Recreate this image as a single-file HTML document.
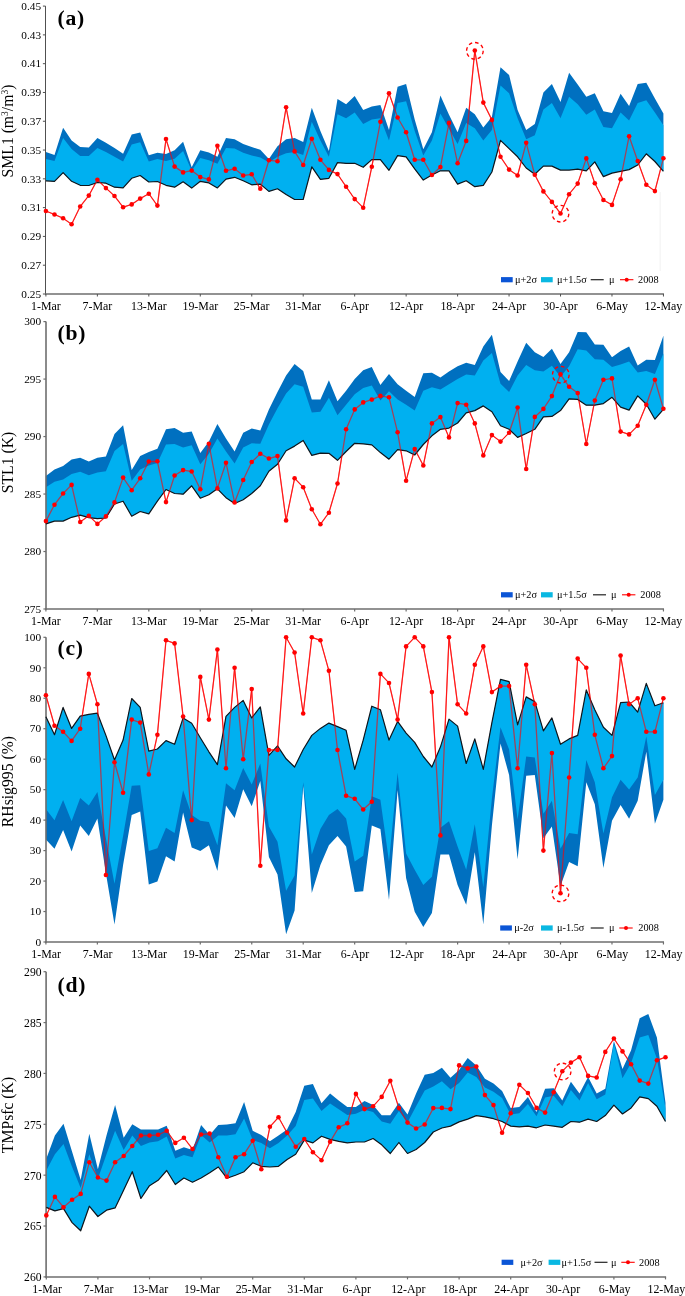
<!DOCTYPE html>
<html><head><meta charset="utf-8"><title>Figure</title>
<style>html,body{margin:0;padding:0;background:#fff}svg{display:block}text{font-family:"Liberation Serif", "Times New Roman", serif;fill:#000}</style>
</head><body>
<svg width="685" height="1296" viewBox="0 0 685 1296">
<rect width="685" height="1296" fill="#fff"/>
<rect x="659.5" y="192" width="1.5" height="79" fill="#f6f6f6"/>
<g id="pa"><polyline points="45.9,211.0 54.5,214.5 63.1,218.2 71.6,224.3 80.2,206.5 88.8,195.6 97.4,179.7 105.9,188.1 114.5,196.0 123.1,207.2 131.7,204.4 140.2,198.6 148.8,193.7 157.4,205.6 166.0,139.0 174.6,166.6 183.1,172.4 191.7,170.6 200.3,177.1 208.9,179.4 217.4,145.8 226.0,170.8 234.6,168.7 243.2,175.5 251.7,174.3 260.3,188.8 268.9,160.3 277.5,161.2 286.1,107.3 294.6,151.4 303.2,165.0 311.8,138.8 320.4,159.8 328.9,169.9 337.5,174.1 346.1,186.7 354.7,199.1 363.2,207.7 371.8,166.8 380.4,121.8 389.0,93.3 397.6,117.5 406.1,132.3 414.7,159.8 423.3,159.8 431.9,175.0 440.4,167.1 449.0,122.9 457.6,163.3 466.2,140.9 474.8,50.5 483.3,102.6 491.9,119.9 500.5,156.8 509.1,169.6 517.6,175.5 526.2,142.8 534.8,174.8 543.4,191.4 551.9,201.9 560.5,213.5 569.1,194.2 577.7,183.6 586.3,158.4 594.8,183.2 603.4,200.0 612.0,204.9 620.6,179.2 629.1,136.2 637.7,161.0 646.3,184.8 654.9,191.1 663.4,158.2" fill="none" stroke="#ff0000" stroke-width="0.8" stroke-linejoin="round"/><polygon points="45.9,152.1 54.5,154.9 63.1,127.8 71.6,140.4 80.2,147.0 88.8,147.4 97.4,138.1 105.9,142.8 114.5,147.9 123.1,153.8 131.7,134.6 140.2,132.5 148.8,155.2 157.4,152.8 166.0,154.0 174.6,150.2 183.1,141.8 191.7,167.3 200.3,150.2 208.9,152.6 217.4,156.8 226.0,138.1 234.6,139.3 243.2,143.9 251.7,147.0 260.3,149.8 268.9,159.1 277.5,146.3 286.1,139.3 294.6,138.1 303.2,142.1 311.8,107.7 320.4,131.1 328.9,150.9 337.5,99.1 346.1,104.2 354.7,96.1 363.2,110.1 371.8,106.6 380.4,104.9 389.0,129.9 397.6,86.7 406.1,83.9 414.7,119.4 423.3,149.3 431.9,132.3 440.4,95.4 449.0,114.7 457.6,132.3 466.2,107.7 474.8,114.3 483.3,127.6 491.9,117.1 500.5,67.3 509.1,75.0 517.6,110.1 526.2,129.9 534.8,124.1 543.4,92.6 551.9,83.9 560.5,101.9 569.1,72.7 577.7,84.4 586.3,96.8 594.8,93.3 603.4,111.2 612.0,112.9 620.6,93.7 629.1,105.9 637.7,83.9 646.3,82.7 654.9,98.4 663.4,113.6 663.4,171.3 654.9,161.5 646.3,153.8 637.7,165.0 629.1,169.6 620.6,171.3 612.0,173.1 603.4,176.6 594.8,161.9 586.3,170.8 577.7,169.2 569.1,170.1 560.5,170.1 551.9,166.1 543.4,166.1 534.8,174.3 526.2,168.0 517.6,156.8 509.1,148.6 500.5,140.4 491.9,172.0 483.3,185.3 474.8,186.7 466.2,180.8 457.6,184.1 449.0,170.8 440.4,170.8 431.9,175.0 423.3,180.1 414.7,168.9 406.1,156.8 397.6,155.6 389.0,170.3 380.4,159.6 371.8,159.6 363.2,167.3 354.7,163.3 346.1,163.3 337.5,162.6 328.9,178.3 320.4,179.4 311.8,166.8 303.2,199.5 294.6,199.5 286.1,194.6 277.5,188.8 268.9,191.4 260.3,184.1 251.7,184.8 243.2,180.8 234.6,177.3 226.0,179.2 217.4,187.9 208.9,182.9 200.3,181.3 191.7,188.1 183.1,181.8 174.6,187.2 166.0,185.3 157.4,181.5 148.8,182.0 140.2,175.5 131.7,178.3 123.1,187.9 114.5,187.2 105.9,183.2 97.4,182.5 88.8,185.5 80.2,185.3 71.6,181.3 63.1,172.7 54.5,181.3 45.9,180.8" fill="#0070c0"/>
<polygon points="45.9,159.1 54.5,161.0 63.1,138.1 71.6,149.1 80.2,155.9 88.8,156.1 97.4,148.1 105.9,152.1 114.5,156.8 123.1,161.5 131.7,144.6 140.2,142.3 148.8,161.5 157.4,159.1 166.0,161.0 174.6,158.7 183.1,150.9 191.7,170.8 200.3,158.0 208.9,160.3 217.4,163.8 226.0,147.9 234.6,148.6 243.2,152.8 251.7,155.6 260.3,157.5 268.9,162.2 277.5,156.8 286.1,153.3 294.6,152.1 303.2,154.9 311.8,121.8 320.4,140.4 328.9,156.8 337.5,114.3 346.1,118.2 354.7,112.4 363.2,124.1 371.8,119.4 380.4,118.2 389.0,140.4 397.6,103.1 406.1,101.2 414.7,131.1 423.3,155.6 431.9,140.4 440.4,113.6 449.0,128.8 457.6,143.9 466.2,122.9 474.8,128.3 483.3,140.4 491.9,129.9 500.5,85.5 509.1,93.3 517.6,118.2 526.2,139.3 534.8,135.3 543.4,109.4 551.9,103.1 560.5,118.2 569.1,96.8 577.7,104.2 586.3,114.7 594.8,109.4 603.4,126.9 612.0,128.3 620.6,112.4 629.1,120.6 637.7,103.1 646.3,100.3 654.9,112.4 663.4,125.3 663.4,171.3 654.9,161.5 646.3,153.8 637.7,165.0 629.1,169.6 620.6,171.3 612.0,173.1 603.4,176.6 594.8,161.9 586.3,170.8 577.7,169.2 569.1,170.1 560.5,170.1 551.9,166.1 543.4,166.1 534.8,174.3 526.2,168.0 517.6,156.8 509.1,148.6 500.5,140.4 491.9,172.0 483.3,185.3 474.8,186.7 466.2,180.8 457.6,184.1 449.0,170.8 440.4,170.8 431.9,175.0 423.3,180.1 414.7,168.9 406.1,156.8 397.6,155.6 389.0,170.3 380.4,159.6 371.8,159.6 363.2,167.3 354.7,163.3 346.1,163.3 337.5,162.6 328.9,178.3 320.4,179.4 311.8,166.8 303.2,199.5 294.6,199.5 286.1,194.6 277.5,188.8 268.9,191.4 260.3,184.1 251.7,184.8 243.2,180.8 234.6,177.3 226.0,179.2 217.4,187.9 208.9,182.9 200.3,181.3 191.7,188.1 183.1,181.8 174.6,187.2 166.0,185.3 157.4,181.5 148.8,182.0 140.2,175.5 131.7,178.3 123.1,187.9 114.5,187.2 105.9,183.2 97.4,182.5 88.8,185.5 80.2,185.3 71.6,181.3 63.1,172.7 54.5,181.3 45.9,180.8" fill="#00b0f0"/>
<path d="M45.50 6.10 V294.70" fill="none" stroke="#505050" stroke-width="1.00"/>
<path d="M45.00 294.00 H664.04" fill="none" stroke="#6e6e6e" stroke-width="1.5"/>
<polyline points="45.9,180.8 54.5,181.3 63.1,172.7 71.6,181.3 80.2,185.3 88.8,185.5 97.4,182.5 105.9,183.2 114.5,187.2 123.1,187.9 131.7,178.3 140.2,175.5 148.8,182.0 157.4,181.5 166.0,185.3 174.6,187.2 183.1,181.8 191.7,188.1 200.3,181.3 208.9,182.9 217.4,187.9 226.0,179.2 234.6,177.3 243.2,180.8 251.7,184.8 260.3,184.1 268.9,191.4 277.5,188.8 286.1,194.6 294.6,199.5 303.2,199.5 311.8,166.8 320.4,179.4 328.9,178.3 337.5,162.6 346.1,163.3 354.7,163.3 363.2,167.3 371.8,159.6 380.4,159.6 389.0,170.3 397.6,155.6 406.1,156.8 414.7,168.9 423.3,180.1 431.9,175.0 440.4,170.8 449.0,170.8 457.6,184.1 466.2,180.8 474.8,186.7 483.3,185.3 491.9,172.0 500.5,140.4 509.1,148.6 517.6,156.8 526.2,168.0 534.8,174.3 543.4,166.1 551.9,166.1 560.5,170.1 569.1,170.1 577.7,169.2 586.3,170.8 594.8,161.9 603.4,176.6 612.0,173.1 620.6,171.3 629.1,169.6 637.7,165.0 646.3,153.8 654.9,161.5 663.4,171.3" fill="none" stroke="#10161c" stroke-width="1.2" stroke-linejoin="round"/>
<polyline points="45.9,211.0 54.5,214.5 63.1,218.2 71.6,224.3 80.2,206.5 88.8,195.6 97.4,179.7 105.9,188.1 114.5,196.0 123.1,207.2 131.7,204.4 140.2,198.6 148.8,193.7 157.4,205.6 166.0,139.0 174.6,166.6 183.1,172.4 191.7,170.6 200.3,177.1 208.9,179.4 217.4,145.8 226.0,170.8 234.6,168.7 243.2,175.5 251.7,174.3 260.3,188.8 268.9,160.3 277.5,161.2 286.1,107.3 294.6,151.4 303.2,165.0 311.8,138.8 320.4,159.8 328.9,169.9 337.5,174.1 346.1,186.7 354.7,199.1 363.2,207.7 371.8,166.8 380.4,121.8 389.0,93.3 397.6,117.5 406.1,132.3 414.7,159.8 423.3,159.8 431.9,175.0 440.4,167.1 449.0,122.9 457.6,163.3 466.2,140.9 474.8,50.5 483.3,102.6 491.9,119.9 500.5,156.8 509.1,169.6 517.6,175.5 526.2,142.8 534.8,174.8 543.4,191.4 551.9,201.9 560.5,213.5 569.1,194.2 577.7,183.6 586.3,158.4 594.8,183.2 603.4,200.0 612.0,204.9 620.6,179.2 629.1,136.2 637.7,161.0 646.3,184.8 654.9,191.1 663.4,158.2" fill="none" stroke="#ff0000" stroke-width="1.3" stroke-opacity="0.62" stroke-linejoin="round"/><circle cx="45.9" cy="211.0" r="2.3" fill="#ff0000"/><circle cx="54.5" cy="214.5" r="2.3" fill="#ff0000"/><circle cx="63.1" cy="218.2" r="2.3" fill="#ff0000"/><circle cx="71.6" cy="224.3" r="2.3" fill="#ff0000"/><circle cx="80.2" cy="206.5" r="2.3" fill="#ff0000"/><circle cx="88.8" cy="195.6" r="2.3" fill="#ff0000"/><circle cx="97.4" cy="179.7" r="2.3" fill="#ff0000"/><circle cx="105.9" cy="188.1" r="2.3" fill="#ff0000"/><circle cx="114.5" cy="196.0" r="2.3" fill="#ff0000"/><circle cx="123.1" cy="207.2" r="2.3" fill="#ff0000"/><circle cx="131.7" cy="204.4" r="2.3" fill="#ff0000"/><circle cx="140.2" cy="198.6" r="2.3" fill="#ff0000"/><circle cx="148.8" cy="193.7" r="2.3" fill="#ff0000"/><circle cx="157.4" cy="205.6" r="2.3" fill="#ff0000"/><circle cx="166.0" cy="139.0" r="2.3" fill="#ff0000"/><circle cx="174.6" cy="166.6" r="2.3" fill="#ff0000"/><circle cx="183.1" cy="172.4" r="2.3" fill="#ff0000"/><circle cx="191.7" cy="170.6" r="2.3" fill="#ff0000"/><circle cx="200.3" cy="177.1" r="2.3" fill="#ff0000"/><circle cx="208.9" cy="179.4" r="2.3" fill="#ff0000"/><circle cx="217.4" cy="145.8" r="2.3" fill="#ff0000"/><circle cx="226.0" cy="170.8" r="2.3" fill="#ff0000"/><circle cx="234.6" cy="168.7" r="2.3" fill="#ff0000"/><circle cx="243.2" cy="175.5" r="2.3" fill="#ff0000"/><circle cx="251.7" cy="174.3" r="2.3" fill="#ff0000"/><circle cx="260.3" cy="188.8" r="2.3" fill="#ff0000"/><circle cx="268.9" cy="160.3" r="2.3" fill="#ff0000"/><circle cx="277.5" cy="161.2" r="2.3" fill="#ff0000"/><circle cx="286.1" cy="107.3" r="2.3" fill="#ff0000"/><circle cx="294.6" cy="151.4" r="2.3" fill="#ff0000"/><circle cx="303.2" cy="165.0" r="2.3" fill="#ff0000"/><circle cx="311.8" cy="138.8" r="2.3" fill="#ff0000"/><circle cx="320.4" cy="159.8" r="2.3" fill="#ff0000"/><circle cx="328.9" cy="169.9" r="2.3" fill="#ff0000"/><circle cx="337.5" cy="174.1" r="2.3" fill="#ff0000"/><circle cx="346.1" cy="186.7" r="2.3" fill="#ff0000"/><circle cx="354.7" cy="199.1" r="2.3" fill="#ff0000"/><circle cx="363.2" cy="207.7" r="2.3" fill="#ff0000"/><circle cx="371.8" cy="166.8" r="2.3" fill="#ff0000"/><circle cx="380.4" cy="121.8" r="2.3" fill="#ff0000"/><circle cx="389.0" cy="93.3" r="2.3" fill="#ff0000"/><circle cx="397.6" cy="117.5" r="2.3" fill="#ff0000"/><circle cx="406.1" cy="132.3" r="2.3" fill="#ff0000"/><circle cx="414.7" cy="159.8" r="2.3" fill="#ff0000"/><circle cx="423.3" cy="159.8" r="2.3" fill="#ff0000"/><circle cx="431.9" cy="175.0" r="2.3" fill="#ff0000"/><circle cx="440.4" cy="167.1" r="2.3" fill="#ff0000"/><circle cx="449.0" cy="122.9" r="2.3" fill="#ff0000"/><circle cx="457.6" cy="163.3" r="2.3" fill="#ff0000"/><circle cx="466.2" cy="140.9" r="2.3" fill="#ff0000"/><circle cx="474.8" cy="50.5" r="2.3" fill="#ff0000"/><circle cx="483.3" cy="102.6" r="2.3" fill="#ff0000"/><circle cx="491.9" cy="119.9" r="2.3" fill="#ff0000"/><circle cx="500.5" cy="156.8" r="2.3" fill="#ff0000"/><circle cx="509.1" cy="169.6" r="2.3" fill="#ff0000"/><circle cx="517.6" cy="175.5" r="2.3" fill="#ff0000"/><circle cx="526.2" cy="142.8" r="2.3" fill="#ff0000"/><circle cx="534.8" cy="174.8" r="2.3" fill="#ff0000"/><circle cx="543.4" cy="191.4" r="2.3" fill="#ff0000"/><circle cx="551.9" cy="201.9" r="2.3" fill="#ff0000"/><circle cx="560.5" cy="213.5" r="2.3" fill="#ff0000"/><circle cx="569.1" cy="194.2" r="2.3" fill="#ff0000"/><circle cx="577.7" cy="183.6" r="2.3" fill="#ff0000"/><circle cx="586.3" cy="158.4" r="2.3" fill="#ff0000"/><circle cx="594.8" cy="183.2" r="2.3" fill="#ff0000"/><circle cx="603.4" cy="200.0" r="2.3" fill="#ff0000"/><circle cx="612.0" cy="204.9" r="2.3" fill="#ff0000"/><circle cx="620.6" cy="179.2" r="2.3" fill="#ff0000"/><circle cx="629.1" cy="136.2" r="2.3" fill="#ff0000"/><circle cx="637.7" cy="161.0" r="2.3" fill="#ff0000"/><circle cx="646.3" cy="184.8" r="2.3" fill="#ff0000"/><circle cx="654.9" cy="191.1" r="2.3" fill="#ff0000"/><circle cx="663.4" cy="158.2" r="2.3" fill="#ff0000"/>
<circle cx="474.9" cy="50.8" r="8.3" fill="none" stroke="#ff0000" stroke-width="1.35" stroke-dasharray="3.6,2.9"/>
<circle cx="560.5" cy="213.7" r="8.3" fill="none" stroke="#ff0000" stroke-width="1.35" stroke-dasharray="3.6,2.9"/>
<path d="M45.50 6.10 h-2.6" stroke="#505050" stroke-width="1.00"/>
<text x="41.1" y="9.8" text-anchor="end" font-size="11.3">0.45</text>
<path d="M45.50 34.89 h-2.6" stroke="#505050" stroke-width="1.00"/>
<text x="41.1" y="38.6" text-anchor="end" font-size="11.3">0.43</text>
<path d="M45.50 63.68 h-2.6" stroke="#505050" stroke-width="1.00"/>
<text x="41.1" y="67.4" text-anchor="end" font-size="11.3">0.41</text>
<path d="M45.50 92.47 h-2.6" stroke="#505050" stroke-width="1.00"/>
<text x="41.1" y="96.2" text-anchor="end" font-size="11.3">0.39</text>
<path d="M45.50 121.26 h-2.6" stroke="#505050" stroke-width="1.00"/>
<text x="41.1" y="125.0" text-anchor="end" font-size="11.3">0.37</text>
<path d="M45.50 150.05 h-2.6" stroke="#505050" stroke-width="1.00"/>
<text x="41.1" y="153.7" text-anchor="end" font-size="11.3">0.35</text>
<path d="M45.50 178.84 h-2.6" stroke="#505050" stroke-width="1.00"/>
<text x="41.1" y="182.5" text-anchor="end" font-size="11.3">0.33</text>
<path d="M45.50 207.63 h-2.6" stroke="#505050" stroke-width="1.00"/>
<text x="41.1" y="211.3" text-anchor="end" font-size="11.3">0.31</text>
<path d="M45.50 236.42 h-2.6" stroke="#505050" stroke-width="1.00"/>
<text x="41.1" y="240.1" text-anchor="end" font-size="11.3">0.29</text>
<path d="M45.50 265.21 h-2.6" stroke="#505050" stroke-width="1.00"/>
<text x="41.1" y="268.9" text-anchor="end" font-size="11.3">0.27</text>
<path d="M45.50 294.00 h-2.6" stroke="#505050" stroke-width="1.00"/>
<text x="41.1" y="297.7" text-anchor="end" font-size="11.3">0.25</text>
<path d="M45.90 294.00 v2.5" stroke="#505050" stroke-width="1.00"/>
<text x="45.9" y="309.9" text-anchor="middle" font-size="11.9">1-Mar</text>
<path d="M97.36 294.00 v2.5" stroke="#505050" stroke-width="1.00"/>
<text x="97.4" y="309.9" text-anchor="middle" font-size="11.9">7-Mar</text>
<path d="M148.82 294.00 v2.5" stroke="#505050" stroke-width="1.00"/>
<text x="148.8" y="309.9" text-anchor="middle" font-size="11.9">13-Mar</text>
<path d="M200.29 294.00 v2.5" stroke="#505050" stroke-width="1.00"/>
<text x="200.3" y="309.9" text-anchor="middle" font-size="11.9">19-Mar</text>
<path d="M251.75 294.00 v2.5" stroke="#505050" stroke-width="1.00"/>
<text x="251.7" y="309.9" text-anchor="middle" font-size="11.9">25-Mar</text>
<path d="M303.21 294.00 v2.5" stroke="#505050" stroke-width="1.00"/>
<text x="303.2" y="309.9" text-anchor="middle" font-size="11.9">31-Mar</text>
<path d="M354.67 294.00 v2.5" stroke="#505050" stroke-width="1.00"/>
<text x="354.7" y="309.9" text-anchor="middle" font-size="11.9">6-Apr</text>
<path d="M406.13 294.00 v2.5" stroke="#505050" stroke-width="1.00"/>
<text x="406.1" y="309.9" text-anchor="middle" font-size="11.9">12-Apr</text>
<path d="M457.60 294.00 v2.5" stroke="#505050" stroke-width="1.00"/>
<text x="457.6" y="309.9" text-anchor="middle" font-size="11.9">18-Apr</text>
<path d="M509.06 294.00 v2.5" stroke="#505050" stroke-width="1.00"/>
<text x="509.1" y="309.9" text-anchor="middle" font-size="11.9">24-Apr</text>
<path d="M560.52 294.00 v2.5" stroke="#505050" stroke-width="1.00"/>
<text x="560.5" y="309.9" text-anchor="middle" font-size="11.9">30-Apr</text>
<path d="M611.98 294.00 v2.5" stroke="#505050" stroke-width="1.00"/>
<text x="612.0" y="309.9" text-anchor="middle" font-size="11.9">6-May</text>
<path d="M663.44 294.00 v2.5" stroke="#505050" stroke-width="1.00"/>
<text x="663.4" y="309.9" text-anchor="middle" font-size="11.9">12-May</text>
<text transform="translate(13.2 131.0) rotate(-90)" text-anchor="middle" font-size="15.7">SML1 (m<tspan font-size="9.5" dy="-5">3</tspan><tspan dy="5">/m</tspan><tspan font-size="9.5" dy="-5">3</tspan><tspan dy="5">)</tspan></text>
<text x="57.6" y="24.6" font-size="21.6" letter-spacing="0.7" font-weight="bold">(a)</text>
<rect x="501.0" y="277.1" width="11.7" height="5.2" fill="#0b55d6"/>
<text x="515.0" y="282.9" font-size="10.3">μ+2σ</text>
<rect x="541.0" y="277.1" width="11.7" height="5.2" fill="#0ab8e2"/>
<text x="557.0" y="282.9" font-size="10.3">μ+1.5σ</text>
<path d="M590.7 279.7 h13" stroke="#222" stroke-width="1.2"/>
<text x="609.0" y="282.9" font-size="10.3">μ</text>
<path d="M620.0 279.7 h13.4" stroke="#ff0000" stroke-width="1.1"/>
<circle cx="626.7" cy="279.7" r="2" fill="#ff0000"/>
<text x="638.0" y="282.9" font-size="10.3">2008</text></g>
<g id="pb"><polyline points="45.9,521.1 54.5,504.7 63.1,493.5 71.6,484.9 80.2,522.0 88.8,515.7 97.4,523.9 105.9,516.4 114.5,502.4 123.1,477.6 131.7,490.2 140.2,478.3 148.8,461.5 157.4,461.3 166.0,502.1 174.6,475.5 183.1,470.1 191.7,471.5 200.3,489.3 208.9,443.8 217.4,488.4 226.0,462.7 234.6,502.4 243.2,480.0 251.7,462.0 260.3,453.8 268.9,458.5 277.5,456.1 286.1,520.4 294.6,478.3 303.2,487.2 311.8,509.2 320.4,524.3 328.9,512.7 337.5,483.5 346.1,429.3 354.7,409.4 363.2,402.4 371.8,399.6 380.4,395.9 389.0,397.3 397.6,432.3 406.1,480.7 414.7,449.1 423.3,465.5 431.9,423.4 440.4,417.1 449.0,437.4 457.6,403.1 466.2,404.7 474.8,423.4 483.3,455.4 491.9,435.1 500.5,441.6 509.1,432.8 517.6,407.5 526.2,469.0 534.8,416.9 543.4,408.9 551.9,396.1 560.5,374.4 569.1,386.8 577.7,393.1 586.3,444.0 594.8,400.5 603.4,379.8 612.0,378.4 620.6,431.6 629.1,434.4 637.7,425.8 646.3,404.7 654.9,379.8 663.4,408.7" fill="none" stroke="#ff0000" stroke-width="0.8" stroke-linejoin="round"/><polygon points="45.9,476.0 54.5,469.4 63.1,465.9 71.6,459.6 80.2,457.8 88.8,461.5 97.4,457.8 105.9,456.6 114.5,433.9 123.1,425.3 131.7,470.1 140.2,456.1 148.8,451.9 157.4,448.7 166.0,429.3 174.6,428.1 183.1,432.8 191.7,431.6 200.3,453.1 208.9,441.6 217.4,424.1 226.0,438.6 234.6,451.5 243.2,432.8 251.7,428.6 260.3,430.4 268.9,409.4 277.5,391.9 286.1,375.5 294.6,363.9 303.2,370.9 311.8,399.4 320.4,399.4 328.9,380.2 337.5,401.2 346.1,390.7 354.7,379.1 363.2,370.2 371.8,366.9 380.4,384.9 389.0,373.9 397.6,384.2 406.1,390.7 414.7,397.0 423.3,373.2 431.9,372.7 440.4,377.4 449.0,371.6 457.6,366.2 466.2,362.7 474.8,365.0 483.3,346.4 491.9,334.7 500.5,372.0 509.1,380.9 517.6,361.5 526.2,342.8 534.8,352.2 543.4,356.9 551.9,348.7 560.5,363.9 569.1,352.2 577.7,331.9 586.3,332.3 594.8,344.5 603.4,344.7 612.0,357.3 620.6,351.0 629.1,346.4 637.7,365.5 646.3,359.7 654.9,359.9 663.4,335.8 663.4,409.4 654.9,419.2 646.3,404.3 637.7,395.9 629.1,410.1 620.6,407.1 612.0,397.3 603.4,403.6 594.8,405.2 586.3,405.2 577.7,399.4 569.1,398.9 560.5,410.6 551.9,416.4 543.4,416.9 534.8,429.3 526.2,433.5 517.6,437.4 509.1,429.3 500.5,425.8 491.9,411.8 483.3,405.9 474.8,410.6 466.2,412.9 457.6,423.0 449.0,428.1 440.4,429.3 431.9,435.8 423.3,444.5 414.7,455.0 406.1,450.8 397.6,449.6 389.0,459.2 380.4,452.6 371.8,444.9 363.2,443.8 354.7,443.3 346.1,451.5 337.5,460.3 328.9,453.3 320.4,453.1 311.8,455.4 303.2,440.5 294.6,446.1 286.1,450.8 277.5,464.3 268.9,471.3 260.3,485.8 251.7,493.5 243.2,499.8 234.6,503.5 226.0,497.7 217.4,488.8 208.9,494.7 200.3,498.2 191.7,485.8 183.1,494.2 174.6,493.5 166.0,489.5 157.4,501.2 148.8,513.8 140.2,511.5 131.7,516.2 123.1,501.2 114.5,504.0 105.9,518.0 97.4,518.7 88.8,517.6 80.2,515.2 71.6,517.3 63.1,521.1 54.5,521.1 45.9,523.9" fill="#0070c0"/>
<polygon points="45.9,487.2 54.5,481.8 63.1,479.5 71.6,474.1 80.2,471.8 88.8,475.3 97.4,472.5 105.9,471.3 114.5,451.0 123.1,444.0 131.7,480.7 140.2,469.4 148.8,465.5 157.4,463.1 166.0,444.5 174.6,444.0 183.1,447.5 191.7,445.2 200.3,464.3 208.9,453.8 217.4,438.6 226.0,451.5 234.6,463.6 243.2,447.5 251.7,443.3 260.3,443.8 268.9,424.6 277.5,408.2 286.1,393.5 294.6,384.2 303.2,386.8 311.8,412.5 320.4,411.8 328.9,397.7 337.5,415.3 346.1,404.7 354.7,394.2 363.2,387.9 371.8,385.6 380.4,400.5 389.0,391.2 397.6,399.6 406.1,404.7 414.7,410.6 423.3,390.7 431.9,387.2 440.4,389.6 449.0,384.2 457.6,379.1 466.2,374.4 474.8,375.5 483.3,360.4 491.9,352.9 500.5,383.7 509.1,391.9 517.6,375.5 526.2,365.0 534.8,370.2 543.4,371.6 551.9,365.7 560.5,376.7 569.1,366.2 577.7,349.2 586.3,350.6 594.8,359.2 603.4,359.7 612.0,366.9 620.6,364.6 629.1,361.5 637.7,372.5 646.3,370.9 654.9,373.9 663.4,353.4 663.4,409.4 654.9,419.2 646.3,404.3 637.7,395.9 629.1,410.1 620.6,407.1 612.0,397.3 603.4,403.6 594.8,405.2 586.3,405.2 577.7,399.4 569.1,398.9 560.5,410.6 551.9,416.4 543.4,416.9 534.8,429.3 526.2,433.5 517.6,437.4 509.1,429.3 500.5,425.8 491.9,411.8 483.3,405.9 474.8,410.6 466.2,412.9 457.6,423.0 449.0,428.1 440.4,429.3 431.9,435.8 423.3,444.5 414.7,455.0 406.1,450.8 397.6,449.6 389.0,459.2 380.4,452.6 371.8,444.9 363.2,443.8 354.7,443.3 346.1,451.5 337.5,460.3 328.9,453.3 320.4,453.1 311.8,455.4 303.2,440.5 294.6,446.1 286.1,450.8 277.5,464.3 268.9,471.3 260.3,485.8 251.7,493.5 243.2,499.8 234.6,503.5 226.0,497.7 217.4,488.8 208.9,494.7 200.3,498.2 191.7,485.8 183.1,494.2 174.6,493.5 166.0,489.5 157.4,501.2 148.8,513.8 140.2,511.5 131.7,516.2 123.1,501.2 114.5,504.0 105.9,518.0 97.4,518.7 88.8,517.6 80.2,515.2 71.6,517.3 63.1,521.1 54.5,521.1 45.9,523.9" fill="#00b0f0"/>
<path d="M46.00 321.60 V609.70" fill="none" stroke="#6e6e6e" stroke-width="1.60"/>
<path d="M45.20 609.00 H664.04" fill="none" stroke="#6e6e6e" stroke-width="1.5"/>
<polyline points="45.9,523.9 54.5,521.1 63.1,521.1 71.6,517.3 80.2,515.2 88.8,517.6 97.4,518.7 105.9,518.0 114.5,504.0 123.1,501.2 131.7,516.2 140.2,511.5 148.8,513.8 157.4,501.2 166.0,489.5 174.6,493.5 183.1,494.2 191.7,485.8 200.3,498.2 208.9,494.7 217.4,488.8 226.0,497.7 234.6,503.5 243.2,499.8 251.7,493.5 260.3,485.8 268.9,471.3 277.5,464.3 286.1,450.8 294.6,446.1 303.2,440.5 311.8,455.4 320.4,453.1 328.9,453.3 337.5,460.3 346.1,451.5 354.7,443.3 363.2,443.8 371.8,444.9 380.4,452.6 389.0,459.2 397.6,449.6 406.1,450.8 414.7,455.0 423.3,444.5 431.9,435.8 440.4,429.3 449.0,428.1 457.6,423.0 466.2,412.9 474.8,410.6 483.3,405.9 491.9,411.8 500.5,425.8 509.1,429.3 517.6,437.4 526.2,433.5 534.8,429.3 543.4,416.9 551.9,416.4 560.5,410.6 569.1,398.9 577.7,399.4 586.3,405.2 594.8,405.2 603.4,403.6 612.0,397.3 620.6,407.1 629.1,410.1 637.7,395.9 646.3,404.3 654.9,419.2 663.4,409.4" fill="none" stroke="#10161c" stroke-width="1.2" stroke-linejoin="round"/>
<polyline points="45.9,521.1 54.5,504.7 63.1,493.5 71.6,484.9 80.2,522.0 88.8,515.7 97.4,523.9 105.9,516.4 114.5,502.4 123.1,477.6 131.7,490.2 140.2,478.3 148.8,461.5 157.4,461.3 166.0,502.1 174.6,475.5 183.1,470.1 191.7,471.5 200.3,489.3 208.9,443.8 217.4,488.4 226.0,462.7 234.6,502.4 243.2,480.0 251.7,462.0 260.3,453.8 268.9,458.5 277.5,456.1 286.1,520.4 294.6,478.3 303.2,487.2 311.8,509.2 320.4,524.3 328.9,512.7 337.5,483.5 346.1,429.3 354.7,409.4 363.2,402.4 371.8,399.6 380.4,395.9 389.0,397.3 397.6,432.3 406.1,480.7 414.7,449.1 423.3,465.5 431.9,423.4 440.4,417.1 449.0,437.4 457.6,403.1 466.2,404.7 474.8,423.4 483.3,455.4 491.9,435.1 500.5,441.6 509.1,432.8 517.6,407.5 526.2,469.0 534.8,416.9 543.4,408.9 551.9,396.1 560.5,374.4 569.1,386.8 577.7,393.1 586.3,444.0 594.8,400.5 603.4,379.8 612.0,378.4 620.6,431.6 629.1,434.4 637.7,425.8 646.3,404.7 654.9,379.8 663.4,408.7" fill="none" stroke="#ff0000" stroke-width="1.3" stroke-opacity="0.62" stroke-linejoin="round"/><circle cx="45.9" cy="521.1" r="2.3" fill="#ff0000"/><circle cx="54.5" cy="504.7" r="2.3" fill="#ff0000"/><circle cx="63.1" cy="493.5" r="2.3" fill="#ff0000"/><circle cx="71.6" cy="484.9" r="2.3" fill="#ff0000"/><circle cx="80.2" cy="522.0" r="2.3" fill="#ff0000"/><circle cx="88.8" cy="515.7" r="2.3" fill="#ff0000"/><circle cx="97.4" cy="523.9" r="2.3" fill="#ff0000"/><circle cx="105.9" cy="516.4" r="2.3" fill="#ff0000"/><circle cx="114.5" cy="502.4" r="2.3" fill="#ff0000"/><circle cx="123.1" cy="477.6" r="2.3" fill="#ff0000"/><circle cx="131.7" cy="490.2" r="2.3" fill="#ff0000"/><circle cx="140.2" cy="478.3" r="2.3" fill="#ff0000"/><circle cx="148.8" cy="461.5" r="2.3" fill="#ff0000"/><circle cx="157.4" cy="461.3" r="2.3" fill="#ff0000"/><circle cx="166.0" cy="502.1" r="2.3" fill="#ff0000"/><circle cx="174.6" cy="475.5" r="2.3" fill="#ff0000"/><circle cx="183.1" cy="470.1" r="2.3" fill="#ff0000"/><circle cx="191.7" cy="471.5" r="2.3" fill="#ff0000"/><circle cx="200.3" cy="489.3" r="2.3" fill="#ff0000"/><circle cx="208.9" cy="443.8" r="2.3" fill="#ff0000"/><circle cx="217.4" cy="488.4" r="2.3" fill="#ff0000"/><circle cx="226.0" cy="462.7" r="2.3" fill="#ff0000"/><circle cx="234.6" cy="502.4" r="2.3" fill="#ff0000"/><circle cx="243.2" cy="480.0" r="2.3" fill="#ff0000"/><circle cx="251.7" cy="462.0" r="2.3" fill="#ff0000"/><circle cx="260.3" cy="453.8" r="2.3" fill="#ff0000"/><circle cx="268.9" cy="458.5" r="2.3" fill="#ff0000"/><circle cx="277.5" cy="456.1" r="2.3" fill="#ff0000"/><circle cx="286.1" cy="520.4" r="2.3" fill="#ff0000"/><circle cx="294.6" cy="478.3" r="2.3" fill="#ff0000"/><circle cx="303.2" cy="487.2" r="2.3" fill="#ff0000"/><circle cx="311.8" cy="509.2" r="2.3" fill="#ff0000"/><circle cx="320.4" cy="524.3" r="2.3" fill="#ff0000"/><circle cx="328.9" cy="512.7" r="2.3" fill="#ff0000"/><circle cx="337.5" cy="483.5" r="2.3" fill="#ff0000"/><circle cx="346.1" cy="429.3" r="2.3" fill="#ff0000"/><circle cx="354.7" cy="409.4" r="2.3" fill="#ff0000"/><circle cx="363.2" cy="402.4" r="2.3" fill="#ff0000"/><circle cx="371.8" cy="399.6" r="2.3" fill="#ff0000"/><circle cx="380.4" cy="395.9" r="2.3" fill="#ff0000"/><circle cx="389.0" cy="397.3" r="2.3" fill="#ff0000"/><circle cx="397.6" cy="432.3" r="2.3" fill="#ff0000"/><circle cx="406.1" cy="480.7" r="2.3" fill="#ff0000"/><circle cx="414.7" cy="449.1" r="2.3" fill="#ff0000"/><circle cx="423.3" cy="465.5" r="2.3" fill="#ff0000"/><circle cx="431.9" cy="423.4" r="2.3" fill="#ff0000"/><circle cx="440.4" cy="417.1" r="2.3" fill="#ff0000"/><circle cx="449.0" cy="437.4" r="2.3" fill="#ff0000"/><circle cx="457.6" cy="403.1" r="2.3" fill="#ff0000"/><circle cx="466.2" cy="404.7" r="2.3" fill="#ff0000"/><circle cx="474.8" cy="423.4" r="2.3" fill="#ff0000"/><circle cx="483.3" cy="455.4" r="2.3" fill="#ff0000"/><circle cx="491.9" cy="435.1" r="2.3" fill="#ff0000"/><circle cx="500.5" cy="441.6" r="2.3" fill="#ff0000"/><circle cx="509.1" cy="432.8" r="2.3" fill="#ff0000"/><circle cx="517.6" cy="407.5" r="2.3" fill="#ff0000"/><circle cx="526.2" cy="469.0" r="2.3" fill="#ff0000"/><circle cx="534.8" cy="416.9" r="2.3" fill="#ff0000"/><circle cx="543.4" cy="408.9" r="2.3" fill="#ff0000"/><circle cx="551.9" cy="396.1" r="2.3" fill="#ff0000"/><circle cx="560.5" cy="374.4" r="2.3" fill="#ff0000"/><circle cx="569.1" cy="386.8" r="2.3" fill="#ff0000"/><circle cx="577.7" cy="393.1" r="2.3" fill="#ff0000"/><circle cx="586.3" cy="444.0" r="2.3" fill="#ff0000"/><circle cx="594.8" cy="400.5" r="2.3" fill="#ff0000"/><circle cx="603.4" cy="379.8" r="2.3" fill="#ff0000"/><circle cx="612.0" cy="378.4" r="2.3" fill="#ff0000"/><circle cx="620.6" cy="431.6" r="2.3" fill="#ff0000"/><circle cx="629.1" cy="434.4" r="2.3" fill="#ff0000"/><circle cx="637.7" cy="425.8" r="2.3" fill="#ff0000"/><circle cx="646.3" cy="404.7" r="2.3" fill="#ff0000"/><circle cx="654.9" cy="379.8" r="2.3" fill="#ff0000"/><circle cx="663.4" cy="408.7" r="2.3" fill="#ff0000"/>
<circle cx="560.8" cy="374.7" r="8.3" fill="none" stroke="#ff0000" stroke-width="1.35" stroke-dasharray="3.6,2.9"/>
<path d="M46.00 321.60 h-2.6" stroke="#6e6e6e" stroke-width="1.20"/>
<text x="41.1" y="325.3" text-anchor="end" font-size="11.3">300</text>
<path d="M46.00 379.08 h-2.6" stroke="#6e6e6e" stroke-width="1.20"/>
<text x="41.1" y="382.8" text-anchor="end" font-size="11.3">295</text>
<path d="M46.00 436.56 h-2.6" stroke="#6e6e6e" stroke-width="1.20"/>
<text x="41.1" y="440.3" text-anchor="end" font-size="11.3">290</text>
<path d="M46.00 494.04 h-2.6" stroke="#6e6e6e" stroke-width="1.20"/>
<text x="41.1" y="497.7" text-anchor="end" font-size="11.3">285</text>
<path d="M46.00 551.52 h-2.6" stroke="#6e6e6e" stroke-width="1.20"/>
<text x="41.1" y="555.2" text-anchor="end" font-size="11.3">280</text>
<path d="M46.00 609.00 h-2.6" stroke="#6e6e6e" stroke-width="1.20"/>
<text x="41.1" y="612.7" text-anchor="end" font-size="11.3">275</text>
<path d="M45.90 609.00 v2.5" stroke="#6e6e6e" stroke-width="1.20"/>
<text x="45.9" y="624.9" text-anchor="middle" font-size="11.9">1-Mar</text>
<path d="M97.36 609.00 v2.5" stroke="#6e6e6e" stroke-width="1.20"/>
<text x="97.4" y="624.9" text-anchor="middle" font-size="11.9">7-Mar</text>
<path d="M148.82 609.00 v2.5" stroke="#6e6e6e" stroke-width="1.20"/>
<text x="148.8" y="624.9" text-anchor="middle" font-size="11.9">13-Mar</text>
<path d="M200.29 609.00 v2.5" stroke="#6e6e6e" stroke-width="1.20"/>
<text x="200.3" y="624.9" text-anchor="middle" font-size="11.9">19-Mar</text>
<path d="M251.75 609.00 v2.5" stroke="#6e6e6e" stroke-width="1.20"/>
<text x="251.7" y="624.9" text-anchor="middle" font-size="11.9">25-Mar</text>
<path d="M303.21 609.00 v2.5" stroke="#6e6e6e" stroke-width="1.20"/>
<text x="303.2" y="624.9" text-anchor="middle" font-size="11.9">31-Mar</text>
<path d="M354.67 609.00 v2.5" stroke="#6e6e6e" stroke-width="1.20"/>
<text x="354.7" y="624.9" text-anchor="middle" font-size="11.9">6-Apr</text>
<path d="M406.13 609.00 v2.5" stroke="#6e6e6e" stroke-width="1.20"/>
<text x="406.1" y="624.9" text-anchor="middle" font-size="11.9">12-Apr</text>
<path d="M457.60 609.00 v2.5" stroke="#6e6e6e" stroke-width="1.20"/>
<text x="457.6" y="624.9" text-anchor="middle" font-size="11.9">18-Apr</text>
<path d="M509.06 609.00 v2.5" stroke="#6e6e6e" stroke-width="1.20"/>
<text x="509.1" y="624.9" text-anchor="middle" font-size="11.9">24-Apr</text>
<path d="M560.52 609.00 v2.5" stroke="#6e6e6e" stroke-width="1.20"/>
<text x="560.5" y="624.9" text-anchor="middle" font-size="11.9">30-Apr</text>
<path d="M611.98 609.00 v2.5" stroke="#6e6e6e" stroke-width="1.20"/>
<text x="612.0" y="624.9" text-anchor="middle" font-size="11.9">6-May</text>
<path d="M663.44 609.00 v2.5" stroke="#6e6e6e" stroke-width="1.20"/>
<text x="663.4" y="624.9" text-anchor="middle" font-size="11.9">12-May</text>
<text transform="translate(13.2 462.5) rotate(-90)" text-anchor="middle" font-size="15.7">STL1 (K)</text>
<text x="57.6" y="340.4" font-size="21.6" letter-spacing="0.7" font-weight="bold">(b)</text>
<rect x="501.0" y="592.2" width="11.7" height="5.2" fill="#0b55d6"/>
<text x="515.0" y="598.0" font-size="10.3">μ+2σ</text>
<rect x="541.0" y="592.2" width="11.7" height="5.2" fill="#0ab8e2"/>
<text x="557.0" y="598.0" font-size="10.3">μ+1.5σ</text>
<path d="M593.0 594.8 h13" stroke="#222" stroke-width="1.2"/>
<text x="611.0" y="598.0" font-size="10.3">μ</text>
<path d="M622.0 594.8 h13.4" stroke="#ff0000" stroke-width="1.1"/>
<circle cx="628.7" cy="594.8" r="2" fill="#ff0000"/>
<text x="640.3" y="598.0" font-size="10.3">2008</text></g>
<g id="pc"><polyline points="45.9,695.2 54.5,725.7 63.1,731.8 71.6,740.9 80.2,728.7 88.8,673.9 97.4,704.3 105.9,875.0 114.5,762.2 123.1,792.7 131.7,719.6 140.2,722.6 148.8,774.4 157.4,734.8 166.0,640.3 174.6,643.4 183.1,716.5 191.7,820.1 200.3,676.9 208.9,719.6 217.4,649.5 226.0,768.3 234.6,667.8 243.2,759.2 251.7,689.1 260.3,865.8 268.9,750.0 277.5,750.0 286.1,637.3 294.6,652.5 303.2,713.5 311.8,637.3 320.4,640.3 328.9,670.8 337.5,750.0 346.1,795.7 354.7,798.8 363.2,809.5 371.8,801.8 380.4,673.9 389.0,683.0 397.6,719.6 406.1,646.4 414.7,637.3 423.3,646.4 431.9,692.1 440.4,835.4 449.0,637.3 457.6,704.3 466.2,713.5 474.8,664.7 483.3,646.4 491.9,692.1 500.5,686.1 509.1,686.1 517.6,768.3 526.2,664.7 534.8,704.3 543.4,850.6 551.9,753.1 560.5,893.2 569.1,777.5 577.7,658.6 586.3,667.8 594.8,734.8 603.4,768.3 612.0,756.1 620.6,655.6 629.1,704.3 637.7,698.2 646.3,731.8 654.9,731.8 663.4,698.2" fill="none" stroke="#ff0000" stroke-width="0.8" stroke-linejoin="round"/><polygon points="45.9,716.8 54.5,734.7 63.1,707.4 71.6,728.4 80.2,716.1 88.8,714.4 97.4,713.2 105.9,735.4 114.5,760.0 123.1,740.1 131.7,698.5 140.2,707.4 148.8,751.1 157.4,749.0 166.0,740.6 174.6,744.3 183.1,717.9 191.7,723.3 200.3,737.8 208.9,751.8 217.4,764.6 226.0,716.3 234.6,707.4 243.2,700.4 251.7,717.9 260.3,706.9 268.9,755.3 277.5,745.9 286.1,758.8 294.6,767.0 303.2,749.5 311.8,735.4 320.4,728.4 328.9,723.1 337.5,726.6 346.1,730.3 354.7,769.3 363.2,740.1 371.8,706.2 380.4,709.7 389.0,740.1 397.6,721.4 406.1,733.1 414.7,742.4 423.3,756.5 431.9,767.0 440.4,747.1 449.0,719.1 457.6,726.1 466.2,763.5 474.8,738.9 483.3,769.3 491.9,722.6 500.5,679.4 509.1,681.7 517.6,724.9 526.2,696.9 534.8,701.6 543.4,730.8 551.9,717.9 560.5,744.3 569.1,738.9 577.7,735.4 586.3,689.9 594.8,709.7 603.4,727.3 612.0,735.4 620.6,702.7 629.1,702.0 637.7,712.1 646.3,683.4 654.9,705.8 663.4,702.7 663.4,799.7 654.9,823.7 646.3,751.8 637.7,800.8 629.1,818.8 620.6,805.0 612.0,820.7 603.4,867.9 594.8,804.3 586.3,782.2 577.7,866.2 569.1,862.0 560.5,886.1 551.9,826.5 543.4,838.2 534.8,775.1 526.2,775.8 517.6,859.2 509.1,775.1 500.5,743.6 491.9,825.4 483.3,924.6 474.8,852.2 466.2,904.8 457.6,884.9 449.0,854.6 440.4,854.6 431.9,913.0 423.3,927.0 414.7,911.8 406.1,877.9 397.6,790.3 389.0,900.1 380.4,828.9 371.8,825.4 363.2,891.2 354.7,891.9 346.1,846.4 337.5,835.9 328.9,845.2 320.4,865.1 311.8,893.1 303.2,785.7 294.6,910.6 286.1,934.2 277.5,874.4 268.9,856.9 260.3,781.0 251.7,806.2 243.2,789.2 234.6,817.9 226.0,805.5 217.4,870.9 208.9,845.2 200.3,851.1 191.7,847.6 183.1,812.5 174.6,861.6 166.0,856.2 157.4,881.4 148.8,884.5 140.2,811.4 131.7,814.9 123.1,865.1 114.5,924.6 105.9,873.2 97.4,818.4 88.8,835.9 80.2,825.4 71.6,851.5 63.1,830.0 54.5,848.7 45.9,839.4" fill="#0070c0"/>
<polygon points="45.9,716.8 54.5,734.7 63.1,707.4 71.6,728.4 80.2,716.1 88.8,714.4 97.4,713.2 105.9,735.4 114.5,760.0 123.1,740.1 131.7,698.5 140.2,707.4 148.8,751.1 157.4,749.0 166.0,740.6 174.6,744.3 183.1,717.9 191.7,723.3 200.3,737.8 208.9,751.8 217.4,764.6 226.0,716.3 234.6,707.4 243.2,700.4 251.7,717.9 260.3,706.9 268.9,755.3 277.5,745.9 286.1,758.8 294.6,767.0 303.2,749.5 311.8,735.4 320.4,728.4 328.9,723.1 337.5,726.6 346.1,730.3 354.7,769.3 363.2,740.1 371.8,706.2 380.4,709.7 389.0,740.1 397.6,721.4 406.1,733.1 414.7,742.4 423.3,756.5 431.9,767.0 440.4,747.1 449.0,719.1 457.6,726.1 466.2,763.5 474.8,738.9 483.3,769.3 491.9,722.6 500.5,679.4 509.1,681.7 517.6,724.9 526.2,696.9 534.8,701.6 543.4,730.8 551.9,717.9 560.5,744.3 569.1,738.9 577.7,735.4 586.3,689.9 594.8,709.7 603.4,727.3 612.0,735.4 620.6,702.7 629.1,702.0 637.7,712.1 646.3,683.4 654.9,705.8 663.4,702.7 663.4,779.8 654.9,795.0 646.3,736.6 637.7,777.5 629.1,789.6 620.6,779.8 612.0,797.3 603.4,833.5 594.8,782.2 586.3,760.0 577.7,834.2 569.1,833.1 560.5,848.7 551.9,800.8 543.4,813.7 534.8,757.6 526.2,756.5 517.6,819.5 509.1,749.5 500.5,727.3 491.9,798.5 483.3,887.3 474.8,824.2 466.2,869.7 457.6,846.4 449.0,821.2 440.4,827.7 431.9,876.8 423.3,884.9 414.7,869.7 406.1,853.4 397.6,772.8 389.0,861.6 380.4,799.7 371.8,796.2 363.2,855.7 354.7,861.6 346.1,818.4 337.5,809.0 328.9,814.9 320.4,828.9 311.8,854.6 303.2,782.2 294.6,875.6 286.1,890.8 277.5,841.7 268.9,826.5 260.3,763.5 251.7,784.5 243.2,768.1 234.6,790.3 226.0,783.3 217.4,845.2 208.9,821.9 200.3,820.7 191.7,814.9 183.1,790.3 174.6,833.1 166.0,827.7 157.4,848.3 148.8,851.1 140.2,785.2 131.7,785.7 123.1,835.9 114.5,883.8 105.9,838.2 97.4,792.0 88.8,805.5 80.2,798.0 71.6,821.2 63.1,800.1 54.5,820.2 45.9,809.0" fill="#00b0f0"/>
<path d="M46.00 637.30 V942.70" fill="none" stroke="#6e6e6e" stroke-width="1.60"/>
<path d="M45.20 942.00 H664.04" fill="none" stroke="#6e6e6e" stroke-width="1.5"/>
<polyline points="45.9,716.8 54.5,734.7 63.1,707.4 71.6,728.4 80.2,716.1 88.8,714.4 97.4,713.2 105.9,735.4 114.5,760.0 123.1,740.1 131.7,698.5 140.2,707.4 148.8,751.1 157.4,749.0 166.0,740.6 174.6,744.3 183.1,717.9 191.7,723.3 200.3,737.8 208.9,751.8 217.4,764.6 226.0,716.3 234.6,707.4 243.2,700.4 251.7,717.9 260.3,706.9 268.9,755.3 277.5,745.9 286.1,758.8 294.6,767.0 303.2,749.5 311.8,735.4 320.4,728.4 328.9,723.1 337.5,726.6 346.1,730.3 354.7,769.3 363.2,740.1 371.8,706.2 380.4,709.7 389.0,740.1 397.6,721.4 406.1,733.1 414.7,742.4 423.3,756.5 431.9,767.0 440.4,747.1 449.0,719.1 457.6,726.1 466.2,763.5 474.8,738.9 483.3,769.3 491.9,722.6 500.5,679.4 509.1,681.7 517.6,724.9 526.2,696.9 534.8,701.6 543.4,730.8 551.9,717.9 560.5,744.3 569.1,738.9 577.7,735.4 586.3,689.9 594.8,709.7 603.4,727.3 612.0,735.4 620.6,702.7 629.1,702.0 637.7,712.1 646.3,683.4 654.9,705.8 663.4,702.7" fill="none" stroke="#10161c" stroke-width="1.2" stroke-linejoin="round"/>
<polyline points="45.9,695.2 54.5,725.7 63.1,731.8 71.6,740.9 80.2,728.7 88.8,673.9 97.4,704.3 105.9,875.0 114.5,762.2 123.1,792.7 131.7,719.6 140.2,722.6 148.8,774.4 157.4,734.8 166.0,640.3 174.6,643.4 183.1,716.5 191.7,820.1 200.3,676.9 208.9,719.6 217.4,649.5 226.0,768.3 234.6,667.8 243.2,759.2 251.7,689.1 260.3,865.8 268.9,750.0 277.5,750.0 286.1,637.3 294.6,652.5 303.2,713.5 311.8,637.3 320.4,640.3 328.9,670.8 337.5,750.0 346.1,795.7 354.7,798.8 363.2,809.5 371.8,801.8 380.4,673.9 389.0,683.0 397.6,719.6 406.1,646.4 414.7,637.3 423.3,646.4 431.9,692.1 440.4,835.4 449.0,637.3 457.6,704.3 466.2,713.5 474.8,664.7 483.3,646.4 491.9,692.1 500.5,686.1 509.1,686.1 517.6,768.3 526.2,664.7 534.8,704.3 543.4,850.6 551.9,753.1 560.5,893.2 569.1,777.5 577.7,658.6 586.3,667.8 594.8,734.8 603.4,768.3 612.0,756.1 620.6,655.6 629.1,704.3 637.7,698.2 646.3,731.8 654.9,731.8 663.4,698.2" fill="none" stroke="#ff0000" stroke-width="1.3" stroke-opacity="0.62" stroke-linejoin="round"/><circle cx="45.9" cy="695.2" r="2.3" fill="#ff0000"/><circle cx="54.5" cy="725.7" r="2.3" fill="#ff0000"/><circle cx="63.1" cy="731.8" r="2.3" fill="#ff0000"/><circle cx="71.6" cy="740.9" r="2.3" fill="#ff0000"/><circle cx="80.2" cy="728.7" r="2.3" fill="#ff0000"/><circle cx="88.8" cy="673.9" r="2.3" fill="#ff0000"/><circle cx="97.4" cy="704.3" r="2.3" fill="#ff0000"/><circle cx="105.9" cy="875.0" r="2.3" fill="#ff0000"/><circle cx="114.5" cy="762.2" r="2.3" fill="#ff0000"/><circle cx="123.1" cy="792.7" r="2.3" fill="#ff0000"/><circle cx="131.7" cy="719.6" r="2.3" fill="#ff0000"/><circle cx="140.2" cy="722.6" r="2.3" fill="#ff0000"/><circle cx="148.8" cy="774.4" r="2.3" fill="#ff0000"/><circle cx="157.4" cy="734.8" r="2.3" fill="#ff0000"/><circle cx="166.0" cy="640.3" r="2.3" fill="#ff0000"/><circle cx="174.6" cy="643.4" r="2.3" fill="#ff0000"/><circle cx="183.1" cy="716.5" r="2.3" fill="#ff0000"/><circle cx="191.7" cy="820.1" r="2.3" fill="#ff0000"/><circle cx="200.3" cy="676.9" r="2.3" fill="#ff0000"/><circle cx="208.9" cy="719.6" r="2.3" fill="#ff0000"/><circle cx="217.4" cy="649.5" r="2.3" fill="#ff0000"/><circle cx="226.0" cy="768.3" r="2.3" fill="#ff0000"/><circle cx="234.6" cy="667.8" r="2.3" fill="#ff0000"/><circle cx="243.2" cy="759.2" r="2.3" fill="#ff0000"/><circle cx="251.7" cy="689.1" r="2.3" fill="#ff0000"/><circle cx="260.3" cy="865.8" r="2.3" fill="#ff0000"/><circle cx="268.9" cy="750.0" r="2.3" fill="#ff0000"/><circle cx="277.5" cy="750.0" r="2.3" fill="#ff0000"/><circle cx="286.1" cy="637.3" r="2.3" fill="#ff0000"/><circle cx="294.6" cy="652.5" r="2.3" fill="#ff0000"/><circle cx="303.2" cy="713.5" r="2.3" fill="#ff0000"/><circle cx="311.8" cy="637.3" r="2.3" fill="#ff0000"/><circle cx="320.4" cy="640.3" r="2.3" fill="#ff0000"/><circle cx="328.9" cy="670.8" r="2.3" fill="#ff0000"/><circle cx="337.5" cy="750.0" r="2.3" fill="#ff0000"/><circle cx="346.1" cy="795.7" r="2.3" fill="#ff0000"/><circle cx="354.7" cy="798.8" r="2.3" fill="#ff0000"/><circle cx="363.2" cy="809.5" r="2.3" fill="#ff0000"/><circle cx="371.8" cy="801.8" r="2.3" fill="#ff0000"/><circle cx="380.4" cy="673.9" r="2.3" fill="#ff0000"/><circle cx="389.0" cy="683.0" r="2.3" fill="#ff0000"/><circle cx="397.6" cy="719.6" r="2.3" fill="#ff0000"/><circle cx="406.1" cy="646.4" r="2.3" fill="#ff0000"/><circle cx="414.7" cy="637.3" r="2.3" fill="#ff0000"/><circle cx="423.3" cy="646.4" r="2.3" fill="#ff0000"/><circle cx="431.9" cy="692.1" r="2.3" fill="#ff0000"/><circle cx="440.4" cy="835.4" r="2.3" fill="#ff0000"/><circle cx="449.0" cy="637.3" r="2.3" fill="#ff0000"/><circle cx="457.6" cy="704.3" r="2.3" fill="#ff0000"/><circle cx="466.2" cy="713.5" r="2.3" fill="#ff0000"/><circle cx="474.8" cy="664.7" r="2.3" fill="#ff0000"/><circle cx="483.3" cy="646.4" r="2.3" fill="#ff0000"/><circle cx="491.9" cy="692.1" r="2.3" fill="#ff0000"/><circle cx="500.5" cy="686.1" r="2.3" fill="#ff0000"/><circle cx="509.1" cy="686.1" r="2.3" fill="#ff0000"/><circle cx="517.6" cy="768.3" r="2.3" fill="#ff0000"/><circle cx="526.2" cy="664.7" r="2.3" fill="#ff0000"/><circle cx="534.8" cy="704.3" r="2.3" fill="#ff0000"/><circle cx="543.4" cy="850.6" r="2.3" fill="#ff0000"/><circle cx="551.9" cy="753.1" r="2.3" fill="#ff0000"/><circle cx="560.5" cy="893.2" r="2.3" fill="#ff0000"/><circle cx="569.1" cy="777.5" r="2.3" fill="#ff0000"/><circle cx="577.7" cy="658.6" r="2.3" fill="#ff0000"/><circle cx="586.3" cy="667.8" r="2.3" fill="#ff0000"/><circle cx="594.8" cy="734.8" r="2.3" fill="#ff0000"/><circle cx="603.4" cy="768.3" r="2.3" fill="#ff0000"/><circle cx="612.0" cy="756.1" r="2.3" fill="#ff0000"/><circle cx="620.6" cy="655.6" r="2.3" fill="#ff0000"/><circle cx="629.1" cy="704.3" r="2.3" fill="#ff0000"/><circle cx="637.7" cy="698.2" r="2.3" fill="#ff0000"/><circle cx="646.3" cy="731.8" r="2.3" fill="#ff0000"/><circle cx="654.9" cy="731.8" r="2.3" fill="#ff0000"/><circle cx="663.4" cy="698.2" r="2.3" fill="#ff0000"/>
<circle cx="560.5" cy="893.4" r="8.3" fill="none" stroke="#ff0000" stroke-width="1.35" stroke-dasharray="3.6,2.9"/>
<path d="M46.00 637.30 h-2.6" stroke="#6e6e6e" stroke-width="1.20"/>
<text x="41.1" y="641.0" text-anchor="end" font-size="11.3">100</text>
<path d="M46.00 667.77 h-2.6" stroke="#6e6e6e" stroke-width="1.20"/>
<text x="41.1" y="671.5" text-anchor="end" font-size="11.3">90</text>
<path d="M46.00 698.24 h-2.6" stroke="#6e6e6e" stroke-width="1.20"/>
<text x="41.1" y="701.9" text-anchor="end" font-size="11.3">80</text>
<path d="M46.00 728.71 h-2.6" stroke="#6e6e6e" stroke-width="1.20"/>
<text x="41.1" y="732.4" text-anchor="end" font-size="11.3">70</text>
<path d="M46.00 759.18 h-2.6" stroke="#6e6e6e" stroke-width="1.20"/>
<text x="41.1" y="762.9" text-anchor="end" font-size="11.3">60</text>
<path d="M46.00 789.65 h-2.6" stroke="#6e6e6e" stroke-width="1.20"/>
<text x="41.1" y="793.4" text-anchor="end" font-size="11.3">50</text>
<path d="M46.00 820.12 h-2.6" stroke="#6e6e6e" stroke-width="1.20"/>
<text x="41.1" y="823.8" text-anchor="end" font-size="11.3">40</text>
<path d="M46.00 850.59 h-2.6" stroke="#6e6e6e" stroke-width="1.20"/>
<text x="41.1" y="854.3" text-anchor="end" font-size="11.3">30</text>
<path d="M46.00 881.06 h-2.6" stroke="#6e6e6e" stroke-width="1.20"/>
<text x="41.1" y="884.8" text-anchor="end" font-size="11.3">20</text>
<path d="M46.00 911.53 h-2.6" stroke="#6e6e6e" stroke-width="1.20"/>
<text x="41.1" y="915.2" text-anchor="end" font-size="11.3">10</text>
<path d="M46.00 942.00 h-2.6" stroke="#6e6e6e" stroke-width="1.20"/>
<text x="41.1" y="945.7" text-anchor="end" font-size="11.3">0</text>
<path d="M45.90 942.00 v2.5" stroke="#6e6e6e" stroke-width="1.20"/>
<text x="46.2" y="958.2" text-anchor="middle" font-size="11.9">1-Mar</text>
<path d="M97.36 942.00 v2.5" stroke="#6e6e6e" stroke-width="1.20"/>
<text x="97.7" y="958.2" text-anchor="middle" font-size="11.9">7-Mar</text>
<path d="M148.82 942.00 v2.5" stroke="#6e6e6e" stroke-width="1.20"/>
<text x="149.1" y="958.2" text-anchor="middle" font-size="11.9">13-Mar</text>
<path d="M200.29 942.00 v2.5" stroke="#6e6e6e" stroke-width="1.20"/>
<text x="200.6" y="958.2" text-anchor="middle" font-size="11.9">19-Mar</text>
<path d="M251.75 942.00 v2.5" stroke="#6e6e6e" stroke-width="1.20"/>
<text x="252.0" y="958.2" text-anchor="middle" font-size="11.9">25-Mar</text>
<path d="M303.21 942.00 v2.5" stroke="#6e6e6e" stroke-width="1.20"/>
<text x="303.5" y="958.2" text-anchor="middle" font-size="11.9">31-Mar</text>
<path d="M354.67 942.00 v2.5" stroke="#6e6e6e" stroke-width="1.20"/>
<text x="355.0" y="958.2" text-anchor="middle" font-size="11.9">6-Apr</text>
<path d="M406.13 942.00 v2.5" stroke="#6e6e6e" stroke-width="1.20"/>
<text x="406.4" y="958.2" text-anchor="middle" font-size="11.9">12-Apr</text>
<path d="M457.60 942.00 v2.5" stroke="#6e6e6e" stroke-width="1.20"/>
<text x="457.9" y="958.2" text-anchor="middle" font-size="11.9">18-Apr</text>
<path d="M509.06 942.00 v2.5" stroke="#6e6e6e" stroke-width="1.20"/>
<text x="509.4" y="958.2" text-anchor="middle" font-size="11.9">24-Apr</text>
<path d="M560.52 942.00 v2.5" stroke="#6e6e6e" stroke-width="1.20"/>
<text x="560.8" y="958.2" text-anchor="middle" font-size="11.9">30-Apr</text>
<path d="M611.98 942.00 v2.5" stroke="#6e6e6e" stroke-width="1.20"/>
<text x="612.3" y="958.2" text-anchor="middle" font-size="11.9">6-May</text>
<path d="M663.44 942.00 v2.5" stroke="#6e6e6e" stroke-width="1.20"/>
<text x="663.7" y="958.2" text-anchor="middle" font-size="11.9">12-May</text>
<text transform="translate(13.2 781.6) rotate(-90)" text-anchor="middle" font-size="15.7">RHsig995 (%)</text>
<text x="57.6" y="655.2" font-size="21.6" letter-spacing="0.7" font-weight="bold">(c)</text>
<rect x="500.2" y="925.4" width="11.7" height="5.2" fill="#0b55d6"/>
<text x="514.2" y="931.2" font-size="10.3">μ-2σ</text>
<rect x="541.0" y="925.4" width="11.7" height="5.2" fill="#0ab8e2"/>
<text x="557.0" y="931.2" font-size="10.3">μ-1.5σ</text>
<path d="M590.7 928.0 h13" stroke="#222" stroke-width="1.2"/>
<text x="609.0" y="931.2" font-size="10.3">μ</text>
<path d="M619.3 928.0 h13.4" stroke="#ff0000" stroke-width="1.1"/>
<circle cx="626.0" cy="928.0" r="2" fill="#ff0000"/>
<text x="638.3" y="931.2" font-size="10.3">2008</text></g>
<g id="pd"><polyline points="46.3,1215.4 54.9,1196.9 63.5,1207.2 72.1,1199.7 80.7,1193.9 89.3,1162.3 97.9,1177.5 106.5,1180.6 115.1,1162.3 123.7,1156.0 132.3,1146.0 140.9,1135.5 149.5,1135.5 158.1,1134.8 166.7,1130.8 175.3,1142.9 183.9,1137.8 192.5,1149.0 201.1,1134.5 209.7,1133.6 218.3,1157.2 226.9,1176.8 235.5,1157.2 244.1,1154.2 252.7,1140.8 261.3,1169.3 269.9,1126.8 278.5,1117.3 287.1,1132.7 295.7,1146.7 304.3,1139.0 312.9,1152.3 321.5,1160.2 330.1,1141.8 338.7,1127.3 347.3,1123.3 355.9,1093.9 364.5,1109.1 373.1,1106.3 381.7,1096.9 390.3,1080.8 398.9,1108.1 407.5,1122.6 416.1,1128.5 424.7,1124.5 433.3,1108.1 441.9,1107.9 450.5,1109.1 459.1,1065.4 467.7,1068.4 476.3,1066.6 484.9,1095.1 493.5,1105.1 502.1,1132.7 510.7,1113.3 519.3,1084.8 527.9,1093.0 536.5,1107.9 545.1,1112.6 553.7,1092.3 562.3,1071.2 570.9,1062.6 579.5,1057.2 588.1,1075.9 596.7,1077.5 605.3,1051.9 613.9,1038.5 622.5,1051.4 631.1,1064.2 639.7,1080.6 648.3,1083.6 656.9,1060.3 665.5,1057.2" fill="none" stroke="#ff0000" stroke-width="0.8" stroke-linejoin="round"/><polygon points="46.3,1158.8 54.9,1135.5 63.5,1123.8 72.1,1151.8 80.7,1179.9 89.3,1133.8 97.9,1169.3 106.5,1135.5 115.1,1105.1 123.7,1137.8 132.3,1124.3 140.9,1129.6 149.5,1129.6 158.1,1129.6 166.7,1125.7 175.3,1150.7 183.9,1147.2 192.5,1150.0 201.1,1125.0 209.7,1135.0 218.3,1125.0 226.9,1124.5 235.5,1123.3 244.1,1102.1 252.7,1130.8 261.3,1135.0 269.9,1141.3 278.5,1135.5 287.1,1129.6 295.7,1112.1 304.3,1085.7 312.9,1084.1 321.5,1103.2 330.1,1093.4 338.7,1100.4 347.3,1107.0 355.9,1107.0 364.5,1100.9 373.1,1105.1 381.7,1115.2 390.3,1115.2 398.9,1102.8 407.5,1114.5 416.1,1093.4 424.7,1074.7 433.3,1072.9 441.9,1067.7 450.5,1077.8 459.1,1070.1 467.7,1057.9 476.3,1065.4 484.9,1078.7 493.5,1083.6 502.1,1091.1 510.7,1108.1 519.3,1107.0 527.9,1096.9 536.5,1112.1 545.1,1088.8 553.7,1088.3 562.3,1100.4 570.9,1081.8 579.5,1093.4 588.1,1077.1 596.7,1093.4 605.3,1088.8 613.9,1040.9 622.5,1068.9 631.1,1050.2 639.7,1018.2 648.3,1014.0 656.9,1037.4 665.5,1102.8 665.5,1121.5 656.9,1106.3 648.3,1098.6 639.7,1096.9 631.1,1107.9 622.5,1114.0 613.9,1105.1 605.3,1115.6 596.7,1121.5 588.1,1119.1 579.5,1122.2 570.9,1121.5 562.3,1127.3 553.7,1126.1 545.1,1125.0 536.5,1127.8 527.9,1126.1 519.3,1126.8 510.7,1126.1 502.1,1121.5 493.5,1118.7 484.9,1116.8 476.3,1115.6 467.7,1119.1 459.1,1121.9 450.5,1126.1 441.9,1128.0 433.3,1132.0 424.7,1142.5 416.1,1149.5 407.5,1153.5 398.9,1142.5 390.3,1153.5 381.7,1144.8 373.1,1138.5 364.5,1142.0 355.9,1142.0 347.3,1142.9 338.7,1141.3 330.1,1139.4 321.5,1136.2 312.9,1142.9 304.3,1140.1 295.7,1154.2 287.1,1159.5 278.5,1166.3 269.9,1167.0 261.3,1166.3 252.7,1162.8 244.1,1171.7 235.5,1175.2 226.9,1178.2 218.3,1167.0 209.7,1172.8 201.1,1178.0 192.5,1182.2 183.9,1178.0 175.3,1184.5 166.7,1170.5 158.1,1180.3 149.5,1185.7 140.9,1198.5 132.3,1171.7 123.7,1189.9 115.1,1207.9 106.5,1210.2 97.9,1216.5 89.3,1206.2 80.7,1230.8 72.1,1222.6 63.5,1208.6 54.9,1210.9 46.3,1207.4" fill="#0070c0"/>
<polygon points="46.3,1170.5 54.9,1154.2 63.5,1144.1 72.1,1167.0 80.7,1188.0 89.3,1154.2 97.9,1178.7 106.5,1154.2 115.1,1130.8 123.7,1150.0 132.3,1135.5 140.9,1146.0 149.5,1142.5 158.1,1141.3 166.7,1136.6 175.3,1158.4 183.9,1154.9 192.5,1157.2 201.1,1135.0 209.7,1142.5 218.3,1135.5 226.9,1135.5 235.5,1134.3 244.1,1118.4 252.7,1140.1 261.3,1142.9 269.9,1148.3 278.5,1142.9 287.1,1135.5 295.7,1126.1 304.3,1100.0 312.9,1098.6 321.5,1110.9 330.1,1103.5 338.7,1109.3 347.3,1114.9 355.9,1113.8 364.5,1109.8 373.1,1112.1 381.7,1121.5 390.3,1123.8 398.9,1110.9 407.5,1122.6 416.1,1106.3 424.7,1090.6 433.3,1086.4 441.9,1081.3 450.5,1089.2 459.1,1082.9 467.7,1072.4 476.3,1077.1 484.9,1087.6 493.5,1091.8 502.1,1098.1 510.7,1114.5 519.3,1113.3 527.9,1103.9 536.5,1116.3 545.1,1097.6 553.7,1095.8 562.3,1106.3 570.9,1089.9 579.5,1100.4 588.1,1082.9 596.7,1099.3 605.3,1094.6 613.9,1043.2 622.5,1078.2 631.1,1063.1 639.7,1037.4 648.3,1035.0 656.9,1058.4 665.5,1108.6 665.5,1121.5 656.9,1106.3 648.3,1098.6 639.7,1096.9 631.1,1107.9 622.5,1114.0 613.9,1105.1 605.3,1115.6 596.7,1121.5 588.1,1119.1 579.5,1122.2 570.9,1121.5 562.3,1127.3 553.7,1126.1 545.1,1125.0 536.5,1127.8 527.9,1126.1 519.3,1126.8 510.7,1126.1 502.1,1121.5 493.5,1118.7 484.9,1116.8 476.3,1115.6 467.7,1119.1 459.1,1121.9 450.5,1126.1 441.9,1128.0 433.3,1132.0 424.7,1142.5 416.1,1149.5 407.5,1153.5 398.9,1142.5 390.3,1153.5 381.7,1144.8 373.1,1138.5 364.5,1142.0 355.9,1142.0 347.3,1142.9 338.7,1141.3 330.1,1139.4 321.5,1136.2 312.9,1142.9 304.3,1140.1 295.7,1154.2 287.1,1159.5 278.5,1166.3 269.9,1167.0 261.3,1166.3 252.7,1162.8 244.1,1171.7 235.5,1175.2 226.9,1178.2 218.3,1167.0 209.7,1172.8 201.1,1178.0 192.5,1182.2 183.9,1178.0 175.3,1184.5 166.7,1170.5 158.1,1180.3 149.5,1185.7 140.9,1198.5 132.3,1171.7 123.7,1189.9 115.1,1207.9 106.5,1210.2 97.9,1216.5 89.3,1206.2 80.7,1230.8 72.1,1222.6 63.5,1208.6 54.9,1210.9 46.3,1207.4" fill="#00b0f0"/>
<path d="M46.10 971.70 V1277.60" fill="none" stroke="#6e6e6e" stroke-width="1.60"/>
<path d="M45.30 1276.90 H666.10" fill="none" stroke="#6e6e6e" stroke-width="1.5"/>
<polyline points="46.3,1207.4 54.9,1210.9 63.5,1208.6 72.1,1222.6 80.7,1230.8 89.3,1206.2 97.9,1216.5 106.5,1210.2 115.1,1207.9 123.7,1189.9 132.3,1171.7 140.9,1198.5 149.5,1185.7 158.1,1180.3 166.7,1170.5 175.3,1184.5 183.9,1178.0 192.5,1182.2 201.1,1178.0 209.7,1172.8 218.3,1167.0 226.9,1178.2 235.5,1175.2 244.1,1171.7 252.7,1162.8 261.3,1166.3 269.9,1167.0 278.5,1166.3 287.1,1159.5 295.7,1154.2 304.3,1140.1 312.9,1142.9 321.5,1136.2 330.1,1139.4 338.7,1141.3 347.3,1142.9 355.9,1142.0 364.5,1142.0 373.1,1138.5 381.7,1144.8 390.3,1153.5 398.9,1142.5 407.5,1153.5 416.1,1149.5 424.7,1142.5 433.3,1132.0 441.9,1128.0 450.5,1126.1 459.1,1121.9 467.7,1119.1 476.3,1115.6 484.9,1116.8 493.5,1118.7 502.1,1121.5 510.7,1126.1 519.3,1126.8 527.9,1126.1 536.5,1127.8 545.1,1125.0 553.7,1126.1 562.3,1127.3 570.9,1121.5 579.5,1122.2 588.1,1119.1 596.7,1121.5 605.3,1115.6 613.9,1105.1 622.5,1114.0 631.1,1107.9 639.7,1096.9 648.3,1098.6 656.9,1106.3 665.5,1121.5" fill="none" stroke="#10161c" stroke-width="1.2" stroke-linejoin="round"/>
<polyline points="46.3,1215.4 54.9,1196.9 63.5,1207.2 72.1,1199.7 80.7,1193.9 89.3,1162.3 97.9,1177.5 106.5,1180.6 115.1,1162.3 123.7,1156.0 132.3,1146.0 140.9,1135.5 149.5,1135.5 158.1,1134.8 166.7,1130.8 175.3,1142.9 183.9,1137.8 192.5,1149.0 201.1,1134.5 209.7,1133.6 218.3,1157.2 226.9,1176.8 235.5,1157.2 244.1,1154.2 252.7,1140.8 261.3,1169.3 269.9,1126.8 278.5,1117.3 287.1,1132.7 295.7,1146.7 304.3,1139.0 312.9,1152.3 321.5,1160.2 330.1,1141.8 338.7,1127.3 347.3,1123.3 355.9,1093.9 364.5,1109.1 373.1,1106.3 381.7,1096.9 390.3,1080.8 398.9,1108.1 407.5,1122.6 416.1,1128.5 424.7,1124.5 433.3,1108.1 441.9,1107.9 450.5,1109.1 459.1,1065.4 467.7,1068.4 476.3,1066.6 484.9,1095.1 493.5,1105.1 502.1,1132.7 510.7,1113.3 519.3,1084.8 527.9,1093.0 536.5,1107.9 545.1,1112.6 553.7,1092.3 562.3,1071.2 570.9,1062.6 579.5,1057.2 588.1,1075.9 596.7,1077.5 605.3,1051.9 613.9,1038.5 622.5,1051.4 631.1,1064.2 639.7,1080.6 648.3,1083.6 656.9,1060.3 665.5,1057.2" fill="none" stroke="#ff0000" stroke-width="1.3" stroke-opacity="0.62" stroke-linejoin="round"/><circle cx="46.3" cy="1215.4" r="2.3" fill="#ff0000"/><circle cx="54.9" cy="1196.9" r="2.3" fill="#ff0000"/><circle cx="63.5" cy="1207.2" r="2.3" fill="#ff0000"/><circle cx="72.1" cy="1199.7" r="2.3" fill="#ff0000"/><circle cx="80.7" cy="1193.9" r="2.3" fill="#ff0000"/><circle cx="89.3" cy="1162.3" r="2.3" fill="#ff0000"/><circle cx="97.9" cy="1177.5" r="2.3" fill="#ff0000"/><circle cx="106.5" cy="1180.6" r="2.3" fill="#ff0000"/><circle cx="115.1" cy="1162.3" r="2.3" fill="#ff0000"/><circle cx="123.7" cy="1156.0" r="2.3" fill="#ff0000"/><circle cx="132.3" cy="1146.0" r="2.3" fill="#ff0000"/><circle cx="140.9" cy="1135.5" r="2.3" fill="#ff0000"/><circle cx="149.5" cy="1135.5" r="2.3" fill="#ff0000"/><circle cx="158.1" cy="1134.8" r="2.3" fill="#ff0000"/><circle cx="166.7" cy="1130.8" r="2.3" fill="#ff0000"/><circle cx="175.3" cy="1142.9" r="2.3" fill="#ff0000"/><circle cx="183.9" cy="1137.8" r="2.3" fill="#ff0000"/><circle cx="192.5" cy="1149.0" r="2.3" fill="#ff0000"/><circle cx="201.1" cy="1134.5" r="2.3" fill="#ff0000"/><circle cx="209.7" cy="1133.6" r="2.3" fill="#ff0000"/><circle cx="218.3" cy="1157.2" r="2.3" fill="#ff0000"/><circle cx="226.9" cy="1176.8" r="2.3" fill="#ff0000"/><circle cx="235.5" cy="1157.2" r="2.3" fill="#ff0000"/><circle cx="244.1" cy="1154.2" r="2.3" fill="#ff0000"/><circle cx="252.7" cy="1140.8" r="2.3" fill="#ff0000"/><circle cx="261.3" cy="1169.3" r="2.3" fill="#ff0000"/><circle cx="269.9" cy="1126.8" r="2.3" fill="#ff0000"/><circle cx="278.5" cy="1117.3" r="2.3" fill="#ff0000"/><circle cx="287.1" cy="1132.7" r="2.3" fill="#ff0000"/><circle cx="295.7" cy="1146.7" r="2.3" fill="#ff0000"/><circle cx="304.3" cy="1139.0" r="2.3" fill="#ff0000"/><circle cx="312.9" cy="1152.3" r="2.3" fill="#ff0000"/><circle cx="321.5" cy="1160.2" r="2.3" fill="#ff0000"/><circle cx="330.1" cy="1141.8" r="2.3" fill="#ff0000"/><circle cx="338.7" cy="1127.3" r="2.3" fill="#ff0000"/><circle cx="347.3" cy="1123.3" r="2.3" fill="#ff0000"/><circle cx="355.9" cy="1093.9" r="2.3" fill="#ff0000"/><circle cx="364.5" cy="1109.1" r="2.3" fill="#ff0000"/><circle cx="373.1" cy="1106.3" r="2.3" fill="#ff0000"/><circle cx="381.7" cy="1096.9" r="2.3" fill="#ff0000"/><circle cx="390.3" cy="1080.8" r="2.3" fill="#ff0000"/><circle cx="398.9" cy="1108.1" r="2.3" fill="#ff0000"/><circle cx="407.5" cy="1122.6" r="2.3" fill="#ff0000"/><circle cx="416.1" cy="1128.5" r="2.3" fill="#ff0000"/><circle cx="424.7" cy="1124.5" r="2.3" fill="#ff0000"/><circle cx="433.3" cy="1108.1" r="2.3" fill="#ff0000"/><circle cx="441.9" cy="1107.9" r="2.3" fill="#ff0000"/><circle cx="450.5" cy="1109.1" r="2.3" fill="#ff0000"/><circle cx="459.1" cy="1065.4" r="2.3" fill="#ff0000"/><circle cx="467.7" cy="1068.4" r="2.3" fill="#ff0000"/><circle cx="476.3" cy="1066.6" r="2.3" fill="#ff0000"/><circle cx="484.9" cy="1095.1" r="2.3" fill="#ff0000"/><circle cx="493.5" cy="1105.1" r="2.3" fill="#ff0000"/><circle cx="502.1" cy="1132.7" r="2.3" fill="#ff0000"/><circle cx="510.7" cy="1113.3" r="2.3" fill="#ff0000"/><circle cx="519.3" cy="1084.8" r="2.3" fill="#ff0000"/><circle cx="527.9" cy="1093.0" r="2.3" fill="#ff0000"/><circle cx="536.5" cy="1107.9" r="2.3" fill="#ff0000"/><circle cx="545.1" cy="1112.6" r="2.3" fill="#ff0000"/><circle cx="553.7" cy="1092.3" r="2.3" fill="#ff0000"/><circle cx="562.3" cy="1071.2" r="2.3" fill="#ff0000"/><circle cx="570.9" cy="1062.6" r="2.3" fill="#ff0000"/><circle cx="579.5" cy="1057.2" r="2.3" fill="#ff0000"/><circle cx="588.1" cy="1075.9" r="2.3" fill="#ff0000"/><circle cx="596.7" cy="1077.5" r="2.3" fill="#ff0000"/><circle cx="605.3" cy="1051.9" r="2.3" fill="#ff0000"/><circle cx="613.9" cy="1038.5" r="2.3" fill="#ff0000"/><circle cx="622.5" cy="1051.4" r="2.3" fill="#ff0000"/><circle cx="631.1" cy="1064.2" r="2.3" fill="#ff0000"/><circle cx="639.7" cy="1080.6" r="2.3" fill="#ff0000"/><circle cx="648.3" cy="1083.6" r="2.3" fill="#ff0000"/><circle cx="656.9" cy="1060.3" r="2.3" fill="#ff0000"/><circle cx="665.5" cy="1057.2" r="2.3" fill="#ff0000"/>
<circle cx="562.6" cy="1071.5" r="8.3" fill="none" stroke="#ff0000" stroke-width="1.35" stroke-dasharray="3.6,2.9"/>
<path d="M46.10 971.70 h-2.6" stroke="#6e6e6e" stroke-width="1.20"/>
<text x="41.5" y="976.0" text-anchor="end" font-size="11.6">290</text>
<path d="M46.10 1022.57 h-2.6" stroke="#6e6e6e" stroke-width="1.20"/>
<text x="41.5" y="1026.9" text-anchor="end" font-size="11.6">285</text>
<path d="M46.10 1073.43 h-2.6" stroke="#6e6e6e" stroke-width="1.20"/>
<text x="41.5" y="1077.7" text-anchor="end" font-size="11.6">280</text>
<path d="M46.10 1124.30 h-2.6" stroke="#6e6e6e" stroke-width="1.20"/>
<text x="41.5" y="1128.6" text-anchor="end" font-size="11.6">275</text>
<path d="M46.10 1175.17 h-2.6" stroke="#6e6e6e" stroke-width="1.20"/>
<text x="41.5" y="1179.5" text-anchor="end" font-size="11.6">270</text>
<path d="M46.10 1226.03 h-2.6" stroke="#6e6e6e" stroke-width="1.20"/>
<text x="41.5" y="1230.3" text-anchor="end" font-size="11.6">265</text>
<path d="M46.10 1276.90 h-2.6" stroke="#6e6e6e" stroke-width="1.20"/>
<text x="41.5" y="1281.2" text-anchor="end" font-size="11.6">260</text>
<path d="M46.30 1276.90 v2.5" stroke="#6e6e6e" stroke-width="1.20"/>
<text x="47.1" y="1293.3" text-anchor="middle" font-size="11.9">1-Mar</text>
<path d="M97.90 1276.90 v2.5" stroke="#6e6e6e" stroke-width="1.20"/>
<text x="98.7" y="1293.3" text-anchor="middle" font-size="11.9">7-Mar</text>
<path d="M149.50 1276.90 v2.5" stroke="#6e6e6e" stroke-width="1.20"/>
<text x="150.3" y="1293.3" text-anchor="middle" font-size="11.9">13-Mar</text>
<path d="M201.10 1276.90 v2.5" stroke="#6e6e6e" stroke-width="1.20"/>
<text x="201.9" y="1293.3" text-anchor="middle" font-size="11.9">19-Mar</text>
<path d="M252.70 1276.90 v2.5" stroke="#6e6e6e" stroke-width="1.20"/>
<text x="253.5" y="1293.3" text-anchor="middle" font-size="11.9">25-Mar</text>
<path d="M304.30 1276.90 v2.5" stroke="#6e6e6e" stroke-width="1.20"/>
<text x="305.1" y="1293.3" text-anchor="middle" font-size="11.9">31-Mar</text>
<path d="M355.90 1276.90 v2.5" stroke="#6e6e6e" stroke-width="1.20"/>
<text x="356.7" y="1293.3" text-anchor="middle" font-size="11.9">6-Apr</text>
<path d="M407.50 1276.90 v2.5" stroke="#6e6e6e" stroke-width="1.20"/>
<text x="408.3" y="1293.3" text-anchor="middle" font-size="11.9">12-Apr</text>
<path d="M459.10 1276.90 v2.5" stroke="#6e6e6e" stroke-width="1.20"/>
<text x="459.9" y="1293.3" text-anchor="middle" font-size="11.9">18-Apr</text>
<path d="M510.70 1276.90 v2.5" stroke="#6e6e6e" stroke-width="1.20"/>
<text x="511.5" y="1293.3" text-anchor="middle" font-size="11.9">24-Apr</text>
<path d="M562.30 1276.90 v2.5" stroke="#6e6e6e" stroke-width="1.20"/>
<text x="563.1" y="1293.3" text-anchor="middle" font-size="11.9">30-Apr</text>
<path d="M613.90 1276.90 v2.5" stroke="#6e6e6e" stroke-width="1.20"/>
<text x="614.7" y="1293.3" text-anchor="middle" font-size="11.9">6-May</text>
<path d="M665.50 1276.90 v2.5" stroke="#6e6e6e" stroke-width="1.20"/>
<text x="666.3" y="1293.3" text-anchor="middle" font-size="11.9">12-May</text>
<text transform="translate(13.2 1115.0) rotate(-90)" text-anchor="middle" font-size="15.7">TMPsfc (K)</text>
<text x="57.6" y="992.3" font-size="21.6" letter-spacing="0.7" font-weight="bold">(d)</text>
<rect x="501.6" y="1259.7" width="11.7" height="5.2" fill="#0b55d6"/>
<text x="520.6" y="1265.5" font-size="10.3">μ+2σ</text>
<rect x="548.6" y="1259.7" width="11.7" height="5.2" fill="#0ab8e2"/>
<text x="561.5" y="1265.5" font-size="10.3">μ+1.5σ</text>
<path d="M594.5 1262.3 h13" stroke="#222" stroke-width="1.2"/>
<text x="611.0" y="1265.5" font-size="10.3">μ</text>
<path d="M621.3 1262.3 h13.4" stroke="#ff0000" stroke-width="1.1"/>
<circle cx="628.0" cy="1262.3" r="2" fill="#ff0000"/>
<text x="639.0" y="1265.5" font-size="10.3">2008</text></g>
</svg>
</body></html>
